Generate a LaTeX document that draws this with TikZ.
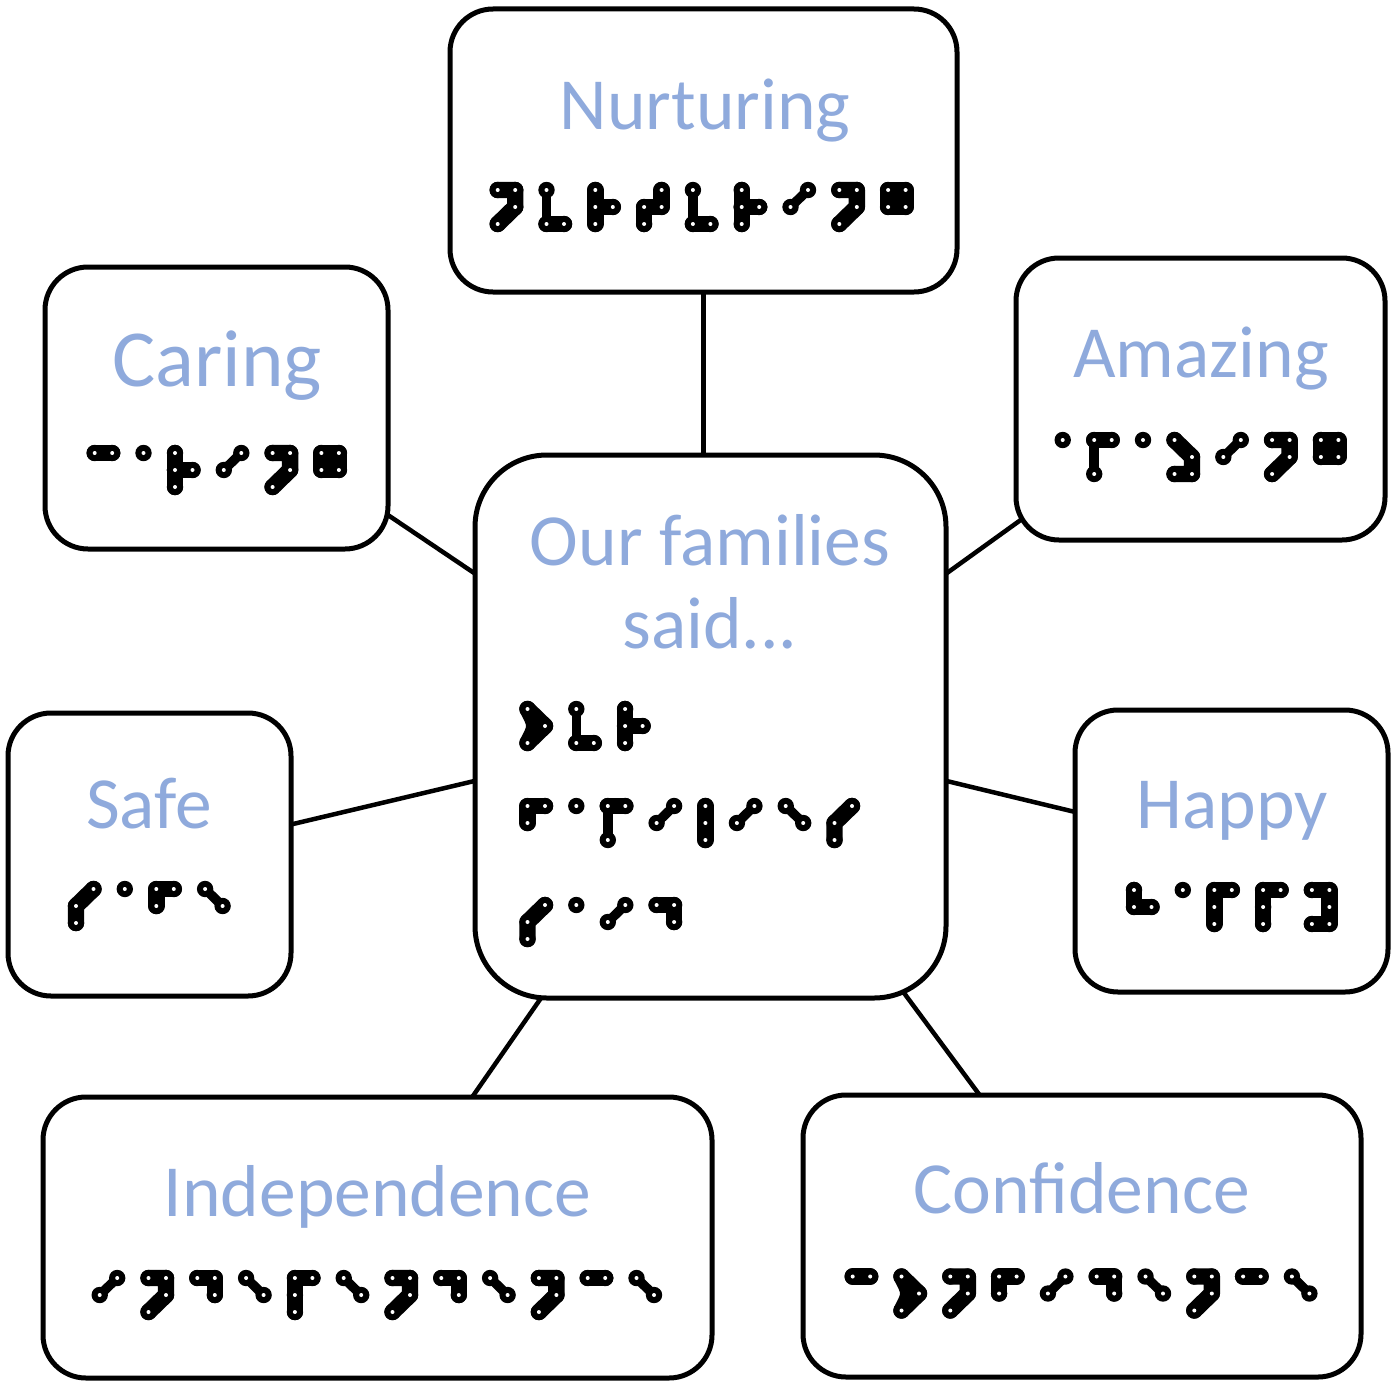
\documentclass[tikz,border=0pt]{standalone}
\usepackage{fontspec}
\setmainfont{Carlito}
\usetikzlibrary{backgrounds}
\definecolor{lbl}{HTML}{8FAADC}
\tikzset{
  box/.style={draw=black, line width=5, rounded corners=43, inner sep=0, fill=white},
  bigbox/.style={box, rounded corners=72},
  lbltext/.style={text=lbl, font=\fontsize{73.5}{83}\selectfont, inner sep=0, anchor=base},
  conn/.style={line width=4.5, shorten >=-14pt, shorten <=-14pt},
  bstroke/.style={line width=16.4, line cap=round, line join=round},
  bthin/.style={line width=9.5, line cap=round, line join=round},
}
% braille cell helpers
\newcommand\bdots[1]{%
  \foreach \k in {#1}{\fill (b\k) circle[radius=8.2];}%
  \foreach \k in {#1}{\fill[white] (b\k) circle[radius=2];}}
\def\brlga{\bdots{1}}
\def\brlgc{\draw[bstroke](b1)--(b4);\bdots{1,4}}
\def\brlgd{\draw[bstroke](b1)--(b4)--(b5);\bdots{1,4,5}}
\def\brlge{\draw[bthin](b1)--(b5);\bdots{1,5}}
\def\brlgf{\draw[bstroke](b2)--(b1)--(b4);\bdots{1,2,4}}
\def\brlgg{\draw[bstroke,fill](b1)--(b4)--(b5)--(b2)--cycle;\bdots{1,2,4,5}}
\def\brlgh{\draw[bstroke](b1)--(b2)--(b5);\bdots{1,2,5}}
\def\brlgi{\draw[bthin](b2)--(b4);\bdots{2,4}}
\def\brlgl{\draw[bstroke](b1)--(b3);\bdots{1,2,3}}
\def\brlgm{\draw[bstroke](b1)--(b4);\draw[bthin](b1)--(b3);\bdots{1,3,4}}
\def\brlgn{\draw[bstroke](b1)--(b4)--(b5)--(b3);\bdots{1,3,4,5}}
\def\brlgo{\draw[bstroke,fill](b1)--(b5)--(b3) .. controls (9,17) .. (b1) -- cycle;\bdots{1,3,5}}
\def\brlgp{\draw[bstroke](b3)--(b1)--(b4);\bdots{1,2,3,4}}
\def\brlgr{\draw[bstroke](b1)--(b3) (b2)--(b5);\bdots{1,2,3,5}}
\def\brlgs{\draw[bstroke](b3)--(b2)--(b4);\bdots{2,3,4}}
\def\brlgt{\draw[bstroke](b4)--(b5)--(b2)--(b3);\bdots{2,3,4,5}}
\def\brlgu{\draw[bthin](b1)--(b3);\draw[bstroke](b3)--(b6);\bdots{1,3,6}}
\def\brlgy{\draw[bstroke](b1)--(b4)--(b6)--(b3);\bdots{1,3,4,5,6}}
\def\brlgz{\draw[bstroke](b1)--(b5)--(b6)--(b3);\bdots{1,3,5,6}}
\def\brlnarrowa{}
\def\brlnarrowl{}
\newcommand\brlword[3]{%
  \xdef\brlx{#1}%
  \foreach \brlc in {#3}{%
    \begin{scope}[shift={(\brlx,#2)}]
      \coordinate (b1) at (0,0);  \coordinate (b4) at (17.5,0);
      \coordinate (b2) at (0,17); \coordinate (b5) at (17.5,17);
      \coordinate (b3) at (0,34); \coordinate (b6) at (17.5,34);
      \csname brlg\brlc\endcsname
    \end{scope}%
    \ifcsname brlnarrow\brlc\endcsname
      \pgfmathsetmacro\brltmp{\brlx+31.5}%
    \else
      \pgfmathsetmacro\brltmp{\brlx+48.8}%
    \fi
    \xdef\brlx{\brltmp}%
  }%
}
\begin{document}
\begin{tikzpicture}[x=1pt,y=-1pt]
\useasboundingbox (0,0) rectangle (1396,1381);
% boxes
\node[box, minimum width=507, minimum height=283] (nurt) at (703.5,150.5) {};
\node[box, minimum width=343, minimum height=282] (caring) at (216.5,408) {};
\node[box, minimum width=369, minimum height=282] (amazing) at (1200.5,399) {};
\node[bigbox, minimum width=471, minimum height=543] (mid) at (710.5,726.5) {};
\node[box, minimum width=283, minimum height=283] (safe) at (149.5,854.5) {};
\node[box, minimum width=313, minimum height=282] (happy) at (1231.5,851) {};
\node[box, minimum width=669, minimum height=281] (indep) at (377.5,1237.5) {};
\node[box, minimum width=558, minimum height=282] (conf) at (1082,1236) {};
% connectors
\begin{scope}[on background layer]
\fill[white] (0,0) rectangle (1396,1381);
\draw[conn] (nurt.south) -- (nurt.south |- mid.north);
\draw[conn] (caring.-32.7) -- (mid.147.1);
\draw[conn] (amazing.-146.3) -- (mid.33.7);
\draw[conn] (safe.12.9) -- (mid.-167.1);
\draw[conn] (happy.166.4) -- (mid.-13.6);
\draw[conn] (indep.56.6) -- (mid.-122.9);
\draw[conn] (conf.126) -- (mid.-54);
\end{scope}
% labels
\node[lbltext] (tnurt) at (705,129) {Nurturing};
\node[lbltext, font=\fontsize{81}{90}\selectfont] (tcar) at (217,386) {Caring};
\node[lbltext] (tama) at (1201,377) {Amazing};
\node[lbltext] (tour) at (710,565) {Our families};
\node[lbltext] (tsaid) at (710,648) {said...};
\node[lbltext] (tsafe) at (149,828) {Safe};
\node[lbltext] (thap) at (1232,828) {Happy};
\node[lbltext] (tind) at (377.5,1216) {Independence};
\node[lbltext] (tconf) at (1081.5,1213) {Confidence};
% braille
\brlword{497.7}{190}{n,u,r,t,u,r,i,n,g}
\brlword{94.7}{453}{c,a,r,i,n,g}
\brlword{1062.7}{440}{a,m,a,z,i,n,g}
\brlword{527.5}{709}{o,u,r}
\brlword{527.5}{806}{f,a,m,i,l,i,e,s}
\brlword{527.5}{905}{s,a,i,d}
\brlword{76}{889}{s,a,f,e}
\brlword{1134}{890}{h,a,p,p,y}
\brlword{99.7}{1278}{i,n,d,e,p,e,n,d,e,n,c,e}
\brlword{852.7}{1276.5}{c,o,n,f,i,d,e,n,c,e}
\end{tikzpicture}
\end{document}
